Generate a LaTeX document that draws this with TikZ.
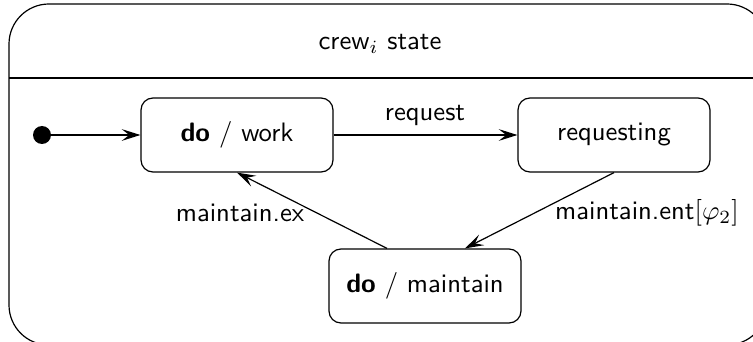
\documentclass[tikz,border=0pt]{standalone}
\usetikzlibrary{arrows.meta}
\begin{document}
\begin{tikzpicture}[x=0.375pt, y=-0.375pt,
  font=\sffamily,
  every path/.style={line width=0.45pt},
  statebox/.style={draw, rounded corners=4.5pt, minimum width=72pt, minimum height=27.75pt, inner sep=0pt},
  trans/.style={-{Stealth[length=7pt, width=4.4pt, inset=2.8pt]}},
  lbl/.style={inner sep=0pt}]
  \useasboundingbox (0,0) rectangle (753,342);
  % enclosing composite state
  \draw[rounded corners=15pt] (9,4) rectangle (767,345);
  \draw (9,78) -- (767,78);
  \node[lbl] (title) at (380,44) {crew$_i$ state};
  % initial pseudostate
  \fill (42,135) circle (9);
  \coordinate (init) at (51,135);
  % states
  \node[statebox] (work) at (237,135) {\textbf{do} / work};
  \node[statebox] (req) at (614,135) {requesting};
  \node[statebox] (maint) at (425,286) {\textbf{do} / maintain};
  % transitions
  \draw[trans] (init) -- (work.west);
  \draw[trans] (work.east) -- (req.west);
  \node[lbl] (lreq) at (425,115) {request};
  \draw[trans] (req.south) -- ([xshift=15pt]maint.north);
  \node[lbl] (lent) at (647,213) {maintain.ent$[\varphi_2]$};
  \draw[trans] ([xshift=-14.25pt]maint.north) -- (work.south);
  \node[lbl] (lex) at (240,213) {maintain.ex};
\end{tikzpicture}
\end{document}
